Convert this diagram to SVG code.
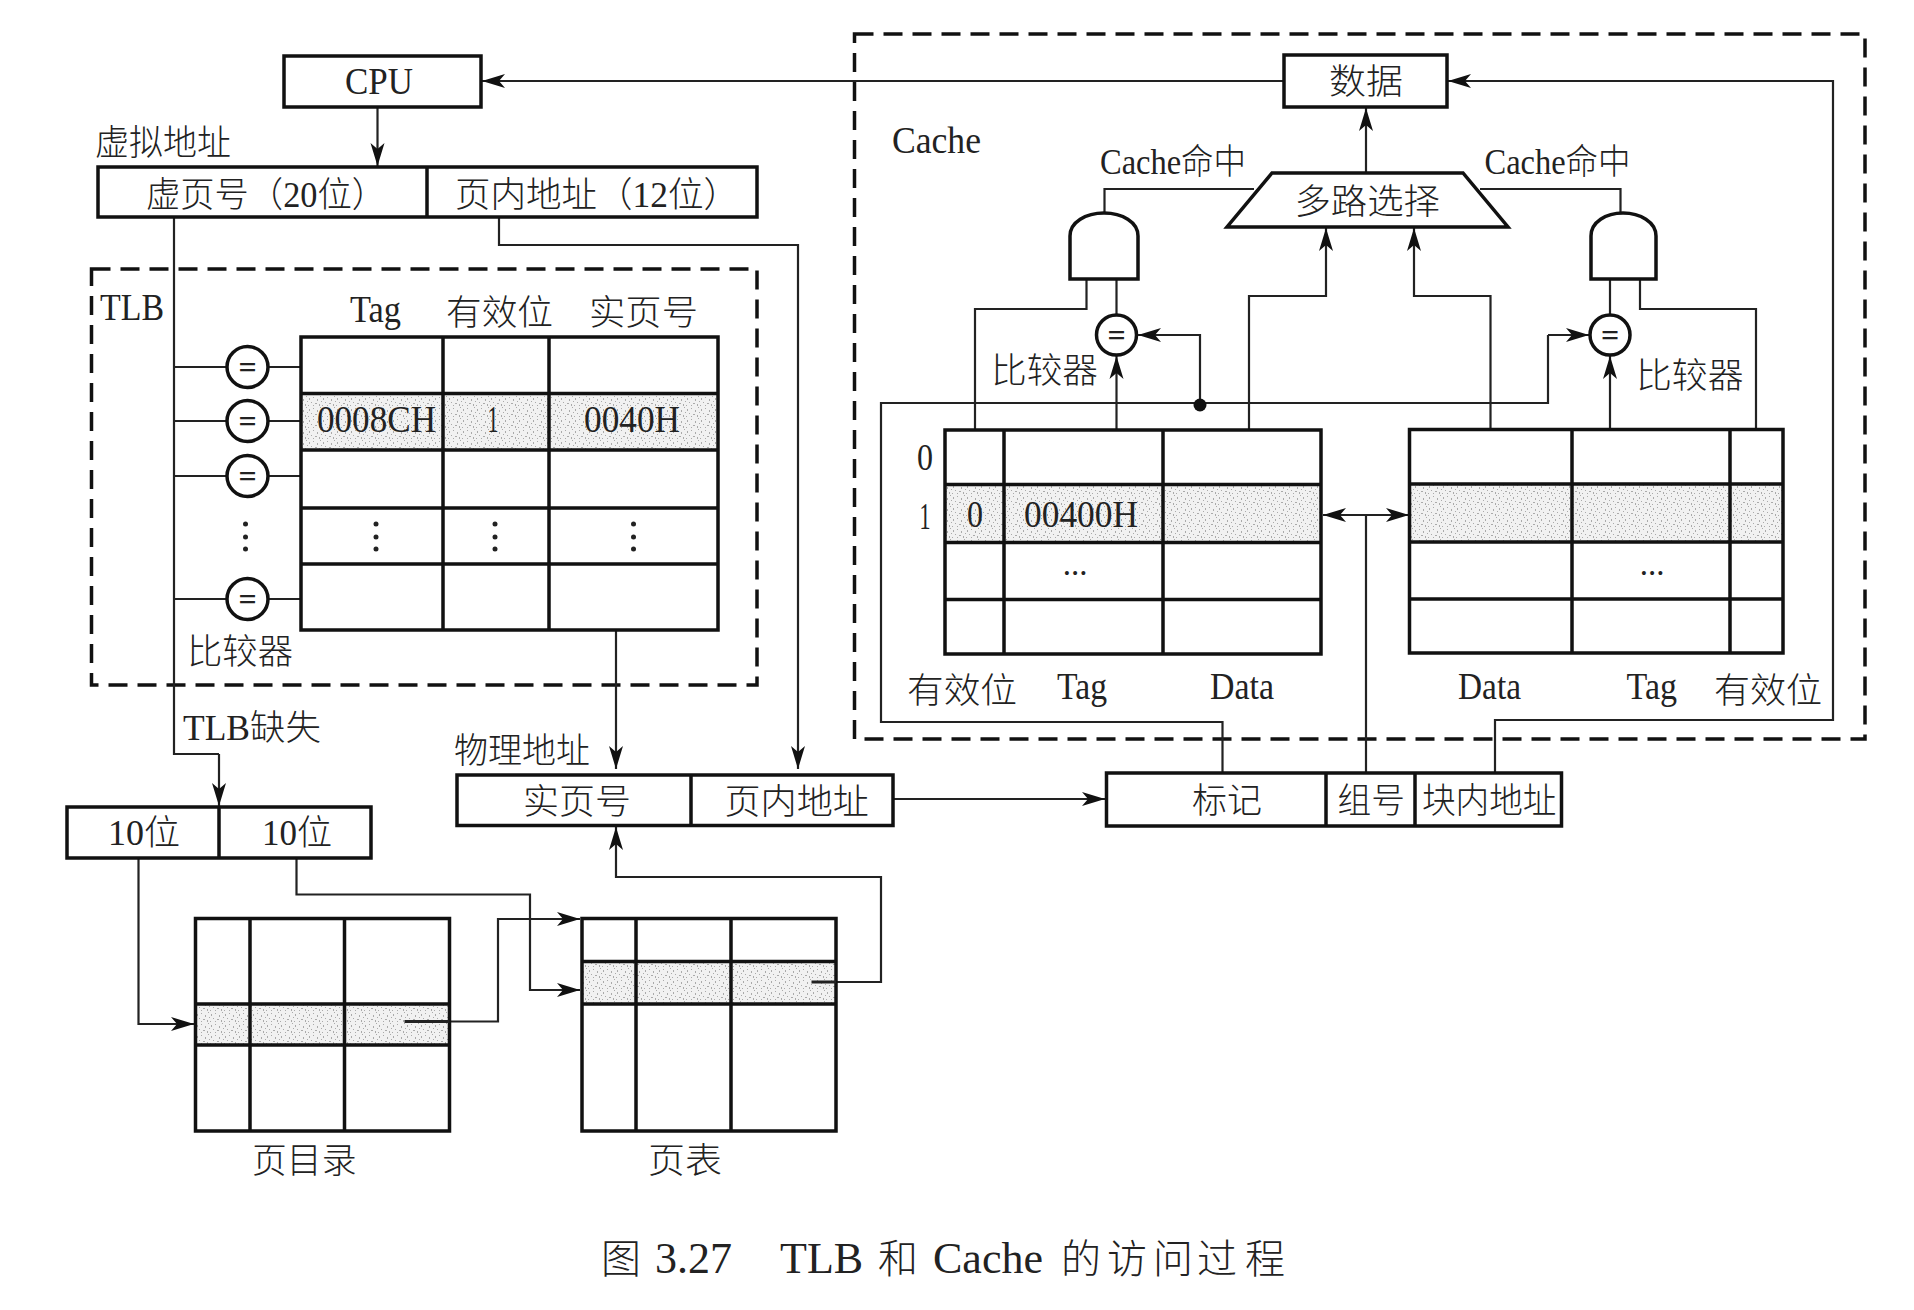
<svg xmlns="http://www.w3.org/2000/svg" width="1914" height="1310" viewBox="0 0 1914 1310">
<style>
text{font-family:"Liberation Serif","Noto Sans CJK SC",serif;font-size:33px;fill:#222;font-weight:300}
.la{font-size:37px}
.zh{font-size:35px}
.eq{font-size:32px;font-weight:700;text-anchor:middle}
.cap{font-size:44px}
.capz{font-size:40px}
.box,.grid{fill:none;stroke:#111;stroke-width:3.5}
.solid{fill:#fff;stroke:#111;stroke-width:3.5}
.dash{fill:none;stroke:#111;stroke-width:3.5;stroke-dasharray:19 10}
.wire{fill:none;stroke:#222;stroke-width:2.2}
.arr{marker-end:url(#head)}
.shade{fill:url(#grain)}
.mid{text-anchor:middle}
</style>
<defs>
<marker id="head" markerUnits="userSpaceOnUse" markerWidth="24" markerHeight="16" viewBox="0 0 24 16" refX="23" refY="8" orient="auto-start-reverse"><path d="M0 1 L23 8 L0 15 L6 8 Z" fill="#111"/></marker>
<pattern id="grain" width="14" height="11" patternUnits="userSpaceOnUse">
<rect width="14" height="11" fill="#f1f1f1"/>
<g fill="#aaa"><rect x="1" y="2" width="1" height="2"/><rect x="5" y="1" width="1" height="1"/><rect x="9" y="3" width="1" height="2"/><rect x="12" y="0" width="1" height="1"/><rect x="3" y="6" width="1" height="1"/><rect x="7" y="7" width="2" height="1"/><rect x="11" y="8" width="1" height="2"/><rect x="0" y="9" width="1" height="1"/><rect x="5" y="9" width="1" height="1"/><rect x="13" y="5" width="1" height="1"/></g>
</pattern>
</defs>
<rect width="1914" height="1310" fill="#fff"/>

<g id="tlb-frame"><rect class="dash" x="91.500" y="269" width="665.500" height="416"/><text class="la" x="100" y="320" textLength="64" lengthAdjust="spacingAndGlyphs">TLB</text></g>
<g id="cache-frame"><rect class="dash" x="854.500" y="34" width="1010.500" height="705"/><text class="la" x="892" y="153" textLength="89" lengthAdjust="spacingAndGlyphs">Cache</text></g>

<g id="connectors">
<path class="wire arr" d="M1284 81H482"/>
<path class="wire arr" d="M377.500 107V166"/>
<path class="wire" d="M174 217V754H219"/>
<path class="wire arr" d="M219 754V806"/>
<path class="wire arr" d="M499 217V245H798V769"/>
<path class="wire" d="M174 367H227M268 367H301M174 421H227M268 421H301M174 476H227M268 476H301M174 599H227M268 599H301"/>
<path class="wire arr" d="M616 630V769"/>
<path class="wire arr" d="M811.500 982H881V877H616V827"/>
<path class="wire arr" d="M138.500 858V1024H194"/>
<path class="wire arr" d="M296.500 858V894.500H530V990H580"/>
<path class="wire arr" d="M404.500 1021.500H498V919H580"/>
<path class="wire arr" d="M892 799H1105"/>
<path class="wire arr" d="M1366 173V108"/>
<path class="wire arr" d="M1495 773V720H1833V81H1448"/>
<path class="wire" d="M1222.500 773V722H881V403H1548V335"/>
<path class="wire arr" d="M1548 335H1589"/>
<path class="wire arr" d="M1200 403V335H1138"/>
<path class="wire" d="M1104.500 213V189H1254M1620.500 213V189H1480"/>
<path class="wire" d="M1086.500 279V309H975V430M1116.500 279V314M1610 279V314M1640 279V309H1756V430"/>
<path class="wire arr" d="M1116.500 430V356"/>
<path class="wire arr" d="M1610 430V356"/>
<path class="wire arr" d="M1249 430V296H1326V228"/>
<path class="wire arr" d="M1490.500 430V296H1414V228"/>
<path class="wire" d="M1366 773V515"/>
<path class="wire arr" d="M1366 515H1409"/>
<path class="wire arr" d="M1366 515H1323"/>
<circle cx="1200" cy="405" r="6.500" fill="#111"/>
</g>

<g id="cpu"><rect class="box" x="284" y="56" width="197" height="51"/><text class="la" x="345" y="94" textLength="68" lengthAdjust="spacingAndGlyphs">CPU</text></g>
<g id="virtual-address"><text class="zh" x="95" y="155" textLength="136" lengthAdjust="spacingAndGlyphs">虚拟地址</text>
<path class="box" d="M98 167H757V217H98ZM427 167V217"/>
<text class="zh" x="146" y="207" textLength="240" lengthAdjust="spacingAndGlyphs">虚页号（20位）</text>
<text class="zh" x="455" y="207" textLength="284" lengthAdjust="spacingAndGlyphs">页内地址（12位）</text></g>

<g id="tlb-table">
<rect class="shade" x="301" y="393" width="417" height="57"/>
<path class="grid" d="M301 337H718V630H301ZM443 337V630M549 337V630M301 393.500H718M301 450H718M301 508H718M301 564H718"/>
<text class="la" x="350" y="322" textLength="51" lengthAdjust="spacingAndGlyphs">Tag</text>
<text class="zh" x="446" y="325" textLength="107" lengthAdjust="spacingAndGlyphs">有效位</text>
<text class="zh" x="589" y="325" textLength="109" lengthAdjust="spacingAndGlyphs">实页号</text>
<text class="la" x="317" y="432" textLength="119" lengthAdjust="spacingAndGlyphs">0008CH</text>
<text class="la mid" x="493" y="432" textLength="11" lengthAdjust="spacingAndGlyphs">1</text>
<text class="la" x="584" y="432" textLength="96" lengthAdjust="spacingAndGlyphs">0040H</text>
<g fill="#222"><circle cx="376" cy="524" r="2.500"/><circle cx="376" cy="537" r="2.500"/><circle cx="376" cy="549" r="2.500"/>
<circle cx="495" cy="524" r="2.500"/><circle cx="495" cy="537" r="2.500"/><circle cx="495" cy="549" r="2.500"/>
<circle cx="633.500" cy="524" r="2.500"/><circle cx="633.500" cy="537" r="2.500"/><circle cx="633.500" cy="549" r="2.500"/></g>
</g>

<g id="tlb-comparators">
<circle class="solid" cx="247.500" cy="367" r="20.500"/><text class="eq" x="247.500" y="378">=</text>
<circle class="solid" cx="247.500" cy="421" r="20.500"/><text class="eq" x="247.500" y="432">=</text>
<circle class="solid" cx="247.500" cy="476" r="20.500"/><text class="eq" x="247.500" y="487">=</text>
<circle class="solid" cx="247.500" cy="599" r="20.500"/><text class="eq" x="247.500" y="610">=</text>
<g fill="#222"><circle cx="245.500" cy="524" r="2.500"/><circle cx="245.500" cy="537" r="2.500"/><circle cx="245.500" cy="549" r="2.500"/></g>
<text class="zh" x="187" y="664" textLength="106" lengthAdjust="spacingAndGlyphs">比较器</text>
</g>

<g id="tlb-miss"><text class="zh" x="183" y="740" textLength="138" lengthAdjust="spacingAndGlyphs">TLB缺失</text></g>
<g id="ten-bits"><path class="box" d="M67 807H371V858H67ZM219 807V858"/>
<text class="zh" x="108" y="845" textLength="72" lengthAdjust="spacingAndGlyphs">10位</text>
<text class="zh" x="262" y="845" textLength="70" lengthAdjust="spacingAndGlyphs">10位</text></g>

<g id="physical-address"><text class="zh" x="454" y="763" textLength="136" lengthAdjust="spacingAndGlyphs">物理地址</text>
<path class="box" d="M457 775H893V825.500H457ZM691 775V825.500"/>
<text class="zh" x="523" y="814" textLength="108" lengthAdjust="spacingAndGlyphs">实页号</text>
<text class="zh" x="724.500" y="814" textLength="144.500" lengthAdjust="spacingAndGlyphs">页内地址</text></g>

<g id="page-directory">
<rect class="shade" x="195.500" y="1004" width="254" height="41"/>
<path class="grid" d="M195.500 918.500H449.500V1131H195.500ZM250 918.500V1131M344.500 918.500V1131M195.500 1004H449.500M195.500 1045H449.500"/>
<path class="wire" d="M404.500 1021.500H449.500" style="stroke-width:3"/>
<text class="zh" x="252" y="1173" textLength="104.500" lengthAdjust="spacingAndGlyphs">页目录</text>
</g>
<g id="page-table">
<rect class="shade" x="582" y="961.500" width="254" height="42.500"/>
<path class="grid" d="M582 918.500H836V1131H582ZM636 918.500V1131M731 918.500V1131M582 961.500H836M582 1004H836"/>
<path class="wire" d="M811.500 982H836" style="stroke-width:3"/>
<text class="zh" x="648" y="1173" textLength="74" lengthAdjust="spacingAndGlyphs">页表</text>
</g>

<g id="data"><rect class="box" x="1284" y="55" width="163" height="52"/><text class="zh" x="1329" y="94" textLength="74" lengthAdjust="spacingAndGlyphs">数据</text></g>
<g id="mux"><path class="box" d="M1272 173H1463L1508 227H1227Z"/><text class="zh" x="1294.500" y="214" textLength="145.500" lengthAdjust="spacingAndGlyphs">多路选择</text></g>
<g id="hit-labels"><text class="zh" x="1100" y="174" textLength="146" lengthAdjust="spacingAndGlyphs">Cache命中</text>
<text class="zh" x="1484.500" y="174" textLength="146" lengthAdjust="spacingAndGlyphs">Cache命中</text></g>
<g id="and-left"><path class="box" d="M1070 279V236C1070 222 1086 213 1104 213C1122 213 1138 222 1138 236V279Z"/></g>
<g id="and-right"><path class="box" d="M1591 279V236C1591 222 1606 213 1623 213C1640 213 1656 222 1656 236V279Z"/></g>
<g id="cmp-left"><circle class="solid" cx="1116.500" cy="335" r="20"/><text class="eq" x="1116.500" y="346">=</text>
<text class="zh" x="991" y="383" textLength="107" lengthAdjust="spacingAndGlyphs">比较器</text></g>
<g id="cmp-right"><circle class="solid" cx="1610" cy="335" r="20"/><text class="eq" x="1610" y="346">=</text>
<text class="zh" x="1636" y="388" textLength="107.500" lengthAdjust="spacingAndGlyphs">比较器</text></g>

<g id="cache-way-0">
<rect class="shade" x="945" y="484" width="376" height="58"/>
<path class="grid" d="M945 430H1321V654H945ZM1004 430V654M1163 430V654M945 484.500H1321M945 542.500H1321M945 599.500H1321"/>
<text class="la mid" x="925" y="470" textLength="16" lengthAdjust="spacingAndGlyphs">0</text><text class="la mid" x="925" y="529" textLength="11" lengthAdjust="spacingAndGlyphs">1</text>
<text class="la mid" x="975" y="527" textLength="16" lengthAdjust="spacingAndGlyphs">0</text>
<text class="la" x="1024" y="527" textLength="114" lengthAdjust="spacingAndGlyphs">00400H</text>
<text class="mid" x="1075" y="575">...</text>
<text class="zh" x="907" y="703" textLength="110" lengthAdjust="spacingAndGlyphs">有效位</text>
<text class="la" x="1057" y="699" textLength="50" lengthAdjust="spacingAndGlyphs">Tag</text>
<text class="la" x="1210" y="699" textLength="64" lengthAdjust="spacingAndGlyphs">Data</text>
</g>
<g id="cache-way-1">
<rect class="shade" x="1409.500" y="484" width="373.500" height="58"/>
<path class="grid" d="M1409.500 429.500H1783V653H1409.500ZM1572 429.500V653M1730 429.500V653M1409.500 484H1783M1409.500 542H1783M1409.500 599H1783"/>
<text class="mid" x="1652" y="575">...</text>
<text class="la" x="1458" y="699" textLength="63" lengthAdjust="spacingAndGlyphs">Data</text>
<text class="la" x="1626.500" y="699" textLength="50.500" lengthAdjust="spacingAndGlyphs">Tag</text>
<text class="zh" x="1714" y="703" textLength="108" lengthAdjust="spacingAndGlyphs">有效位</text>
</g>

<g id="cache-address"><path class="box" d="M1106.500 773H1561.500V826H1106.500ZM1326 773V826M1415 773V826"/>
<text class="zh" x="1192" y="813" textLength="70" lengthAdjust="spacingAndGlyphs">标记</text>
<text class="zh" x="1337.500" y="813" textLength="67.500" lengthAdjust="spacingAndGlyphs">组号</text>
<text class="zh" x="1422" y="813" textLength="134.500" lengthAdjust="spacingAndGlyphs">块内地址</text></g>

<text class="cap" y="1273"><tspan class="capz" x="601">图</tspan> <tspan x="655">3.27</tspan> <tspan x="780">TLB</tspan> <tspan class="capz" x="878">和</tspan> <tspan x="933">Cache</tspan> <tspan class="capz" x="1061 1107 1153 1197 1245">的访问过程</tspan></text>
</svg>
